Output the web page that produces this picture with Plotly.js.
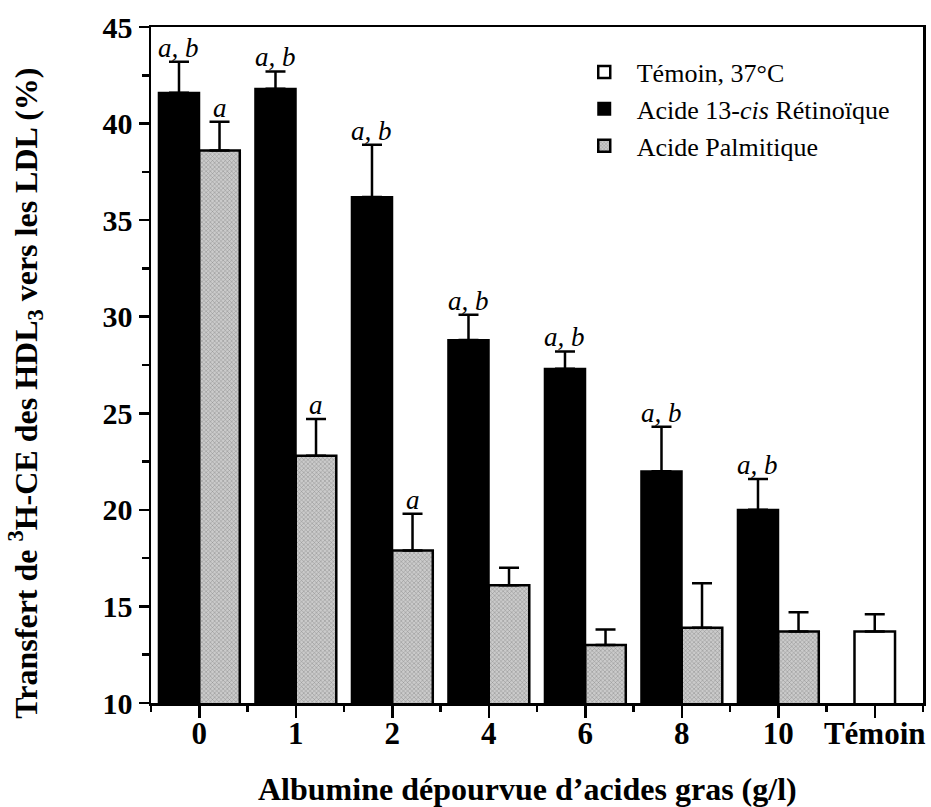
<!DOCTYPE html>
<html>
<head>
<meta charset="utf-8">
<script src="https://cdn.plot.ly/plotly-3.0.1.min.js"></script>
<style>html,body{margin:0;padding:0;background:#fff;}#chart{width:931px;height:807px;}</style>
</head>
<body>
<div id="chart"></div>
<script>
// ---- data ----
const categories = ['0', '1', '2', '4', '6', '8', '10', 'Témoin'];
const retinoicName = 'Acide 13-<i>cis</i> Rétinoïque';
const palmiticName = 'Acide Palmitique';
const controlName = 'Témoin, 37°C';
const retinoicVals = [41.6, 41.8, 36.2, 28.8, 27.3, 22.0, 20.0];
const retinoicErr  = [1.6, 0.9, 2.7, 1.3, 0.9, 2.3, 1.6];
const palmiticVals = [38.6, 22.8, 17.9, 16.1, 13.0, 13.9, 13.7];
const palmiticErr  = [1.5, 1.9, 1.9, 0.9, 0.8, 2.3, 1.0];
const controlVals  = [13.7];
const controlErr   = [0.9];
const retinoicLabels = ['a, b', 'a, b', 'a, b', 'a, b', 'a, b', 'a, b', 'a, b'];
const palmiticLabels = ['a', 'a', 'a', '', '', '', ''];
const xTitle = 'Albumine dépourvue d’acides gras (g/l)';
const yTitle = 'Transfert de <sup>3</sup>H-CE des HDL<sub>3</sub> vers les LDL (%)';

// ---- styling / layout ----
const FONT = 'Liberation Serif, Times New Roman, serif';
const BW = 0.42;
const xTreat = retinoicVals.map((_, i) => i);
const xControl = [categories.length - 1];

function errSpec(arr) {
  return {type: 'data', symmetric: false, array: arr, arrayminus: arr.map(() => 0),
          color: '#000', thickness: 2.5, width: 10};
}

const traces = [
  {
    type: 'bar', name: controlName, x: xControl, y: controlVals,
    offset: -BW / 2, width: BW, legendgroup: 'c',
    marker: {color: '#ffffff', line: {color: '#000', width: 2.5}},
    error_y: errSpec(controlErr)
  },
  {
    type: 'bar', name: retinoicName, x: xTreat, y: retinoicVals,
    offset: -BW, width: BW, legendgroup: 'r',
    marker: {color: '#000000', line: {color: '#000', width: 2}},
    error_y: errSpec(retinoicErr)
  },
  {
    type: 'bar', name: palmiticName, x: xTreat, y: palmiticVals,
    offset: 0, width: BW, legendgroup: 'p',
    marker: {color: '#c2c2c2', line: {color: '#000', width: 2.5},
             pattern: {shape: 'x', fgcolor: '#8c8c8c', bgcolor: '#cbcbcb', size: 3, solidity: 0.3}},
    error_y: errSpec(palmiticErr)
  }
];

const annotations = [];
retinoicLabels.forEach((t, i) => {
  if (!t) return;
  annotations.push({x: xTreat[i] - BW / 2, y: retinoicVals[i] + retinoicErr[i], text: '<i>' + t + '</i>',
    showarrow: false, yanchor: 'bottom', yshift: -3, font: {family: FONT, size: 27, color: '#000'}});
});
palmiticLabels.forEach((t, i) => {
  if (!t) return;
  annotations.push({x: xTreat[i] + BW / 2, y: palmiticVals[i] + palmiticErr[i], text: '<i>' + t + '</i>',
    showarrow: false, yanchor: 'bottom', yshift: -3, font: {family: FONT, size: 27, color: '#000'}});
});
// axis titles
annotations.push({xref: 'paper', yref: 'paper', x: -0.162, y: 0.459, xanchor: 'center', yanchor: 'middle',
  textangle: -90, text: '<b>' + yTitle + '</b>', showarrow: false,
  font: {family: FONT, size: 32, color: '#000'}});
annotations.push({xref: 'paper', yref: 'paper', x: 0.488, y: -0.127, xanchor: 'center', yanchor: 'middle',
  text: '<b>' + xTitle + '</b>', showarrow: false,
  font: {family: FONT, size: 32, color: '#000'}});

const minorX = [];
for (let i = 0; i <= categories.length; i++) minorX.push(i - 0.5);

const layout = {
  width: 931, height: 807,
  margin: {l: 151, r: 8, t: 27, b: 104},
  paper_bgcolor: '#fff', plot_bgcolor: '#fff',
  barmode: 'overlay',
  showlegend: true,
  legend: {x: 0.545, y: 0.968, xanchor: 'left', yanchor: 'top', bgcolor: 'rgba(0,0,0,0)',
           itemwidth: 55,
           font: {family: FONT, size: 26, color: '#000'}, tracegroupgap: 9, traceorder: 'normal'},
  xaxis: {
    range: [-0.5, categories.length - 0.5],
    tickmode: 'array', tickvals: categories.map((_, i) => i), ticktext: categories,
    ticks: 'outside', ticklen: 12, tickwidth: 2.5, tickcolor: '#000',
    ticklabelstandoff: -11,
    showline: true, linewidth: 2.5, linecolor: '#000', mirror: true,
    showgrid: false, zeroline: false,
    tickfont: {family: FONT, size: 31, color: '#000', weight: 'bold'},
    minor: {tickmode: 'array', tickvals: minorX, ticks: 'outside', ticklen: 6, tickwidth: 2.5, tickcolor: '#000', showgrid: false},
    automargin: false
  },
  yaxis: {
    range: [10, 45], dtick: 5, tick0: 10,
    ticks: 'outside', ticklen: 10, tickwidth: 2.5, tickcolor: '#000',
    showline: true, linewidth: 2.5, linecolor: '#000', mirror: true,
    showgrid: false, zeroline: false,
    tickfont: {family: FONT, size: 30, color: '#000', weight: 'bold'},
    minor: {dtick: 2.5, ticks: 'outside', ticklen: 7, tickwidth: 2.5, tickcolor: '#000', showgrid: false},
    automargin: false
  },
  annotations: annotations
};

Plotly.newPlot('chart', traces, layout, {staticPlot: true, displayModeBar: false});
</script>
</body>
</html>
